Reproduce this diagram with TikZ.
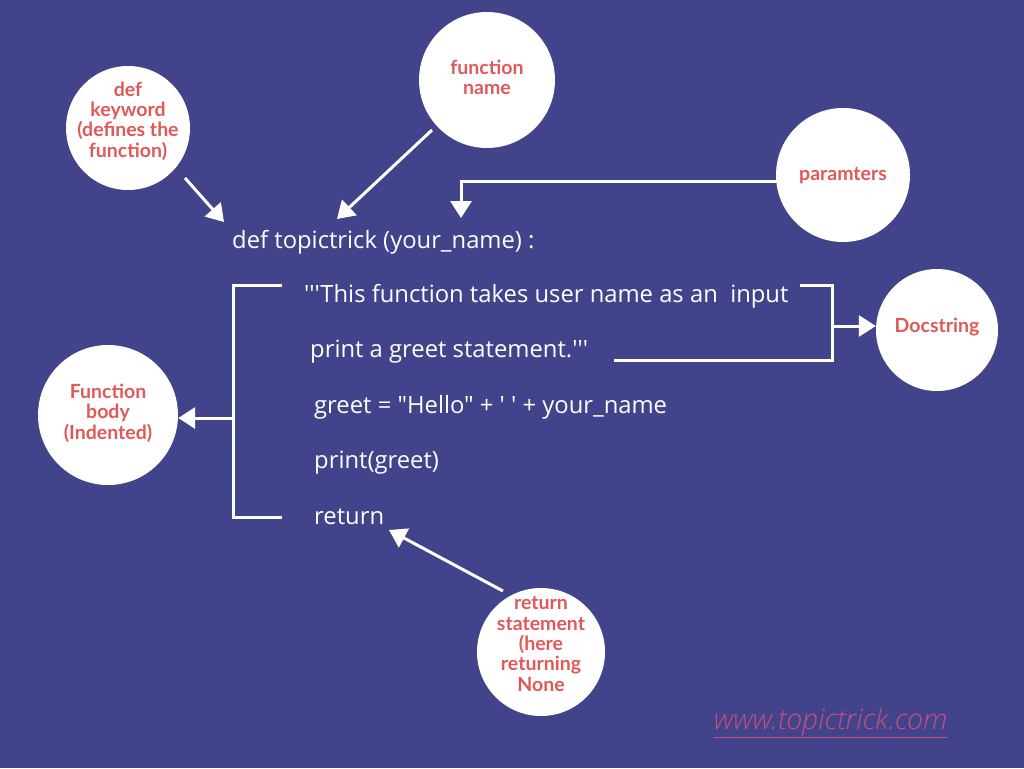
\documentclass[tikz,border=0pt]{standalone}
\usepackage{fontspec}
\newfontfamily\codefont{Open Sans}
\newfontfamily\webfont{Open Sans Light}[ItalicFont={Open Sans Light Italic}]
\newfontfamily\lab{Lato}
\usetikzlibrary{arrows.meta}
\definecolor{bg}{HTML}{41448A}
\definecolor{lbl}{HTML}{E05858}
\definecolor{web}{HTML}{C54F7E}
\tikzset{
  bubble/.style={circle,fill=white,draw=none,inner sep=0pt,minimum size=#1},
  lbltext/.style={align=center,text=lbl,inner sep=0pt,font=\lab\bfseries\fontsize{19.5}{20.3}\selectfont},
  code/.style={anchor=base west,text=white,inner sep=0pt,font=\codefont\fontsize{23.8}{28}\selectfont},
  arr/.style={draw=white,line width=3pt,-{Triangle[width=21pt,length=17pt]}},
  brk/.style={draw=white,line width=3pt},
}
\begin{document}
\begin{tikzpicture}[x=1pt,y=-1pt]
\fill[bg] (0,0) rectangle (1024,768);
\useasboundingbox (0,0) rectangle (1024,768);
% bubbles
\node[bubble=124pt] (kw) at (128,128) {};
\node[lbltext] (kwt) at (128,121) {def\\keyword\\(defines the\\function)};
\node[bubble=136pt] (fn) at (487,80) {};
\node[lbltext] (fnt) at (487,77) {function\\name};
\node[bubble=134pt] (pa) at (843,175) {};
\node[lbltext] (pat) at (843,176) {paramters};
\node[bubble=122pt] (ds) at (937,330) {};
\node[lbltext] (dst) at (937,327) {Docstring};
\node[bubble=140pt] (fb) at (108,415) {};
\node[lbltext] (fbt) at (108,413) {Function\\body\\(Indented)};
\node[bubble=128pt] (rs) at (541,652) {};
\node[lbltext] (rst) at (541,644) {return\\statement\\(here\\returning\\None};
% code
\node[code] (l1) at (232,248) {def topictrick (your\_name) :};
\node[code] (l2) at (304,302) {'''This function takes user name as an\ \ input};
\node[code] (l3) at (310,357) {print a greet statement.'''};
\node[code] (l4) at (314,413) {greet = "Hello" + ' ' + your\_name};
\node[code] (l5) at (314,468) {print(greet)};
\node[code] (l6) at (314,524) {return};
% website
\node[anchor=base west,inner sep=0pt,text=web,font=\webfont\itshape\fontsize{28.5}{32}\selectfont] (www) at (714,729) {\underline{www.topictrick.com}};
% connector coordinates
\coordinate (kwA) at (185,178); \coordinate (kwB) at (224,222);
\coordinate (fnA) at (432,130); \coordinate (fnB) at (337,219);
\coordinate (paA) at (777,181); \coordinate (paK) at (461,181); \coordinate (paB) at (461,218);
\coordinate (dsT1) at (800,285); \coordinate (dsT2) at (832,285);
\coordinate (dsB1) at (614,360); \coordinate (dsB2) at (832,360);
\coordinate (dsM) at (832,326);
\coordinate (fbT1) at (282,285); \coordinate (fbT2) at (233,285);
\coordinate (fbB1) at (282,517); \coordinate (fbB2) at (233,517);
\coordinate (fbM) at (233,418);
\coordinate (rsA) at (503,591); \coordinate (rsB) at (389,530);
% connectors
\draw[arr] (kwA) -- (kwB);
\draw[arr] (fnA) -- (fnB);
\draw[arr] (paA) -- (paK) -- (paB);
\draw[brk] (dsT1) -- (dsT2) -- (dsB2) -- (dsB1);
\draw[arr] (dsM) -- (dsM -| ds.west);
\draw[brk] (fbT1) -- (fbT2) -- (fbB2) -- (fbB1);
\draw[arr] (fbM) -- (fbM -| fb.east);
\draw[arr] (rsA) -- (rsB);
\end{tikzpicture}
\end{document}
